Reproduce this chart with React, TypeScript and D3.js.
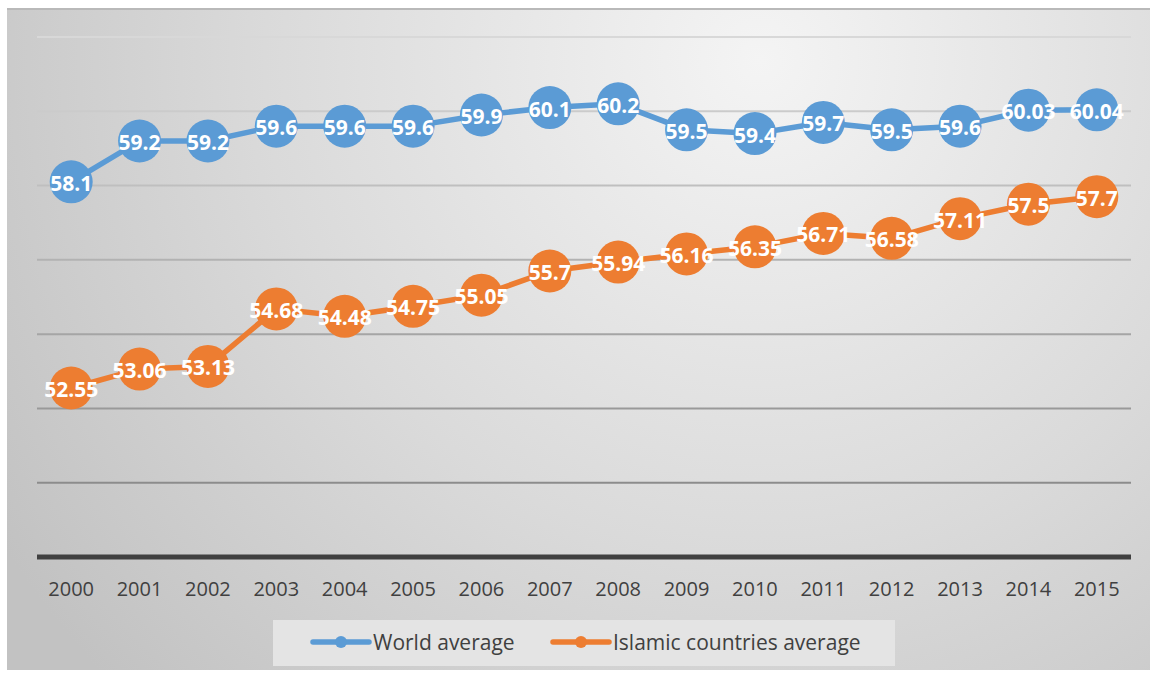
import React, { useEffect, useRef } from 'react';
import * as d3 from 'd3';

const years = ['2000', '2001', '2002', '2003', '2004', '2005', '2006', '2007', '2008', '2009', '2010', '2011', '2012', '2013', '2014', '2015'];
const worldAverage = [58.1, 59.2, 59.2, 59.6, 59.6, 59.6, 59.9, 60.1, 60.2, 59.5, 59.4, 59.7, 59.5, 59.6, 60.03, 60.04];
const islamicAverage = [52.55, 53.06, 53.13, 54.68, 54.48, 54.75, 55.05, 55.7, 55.94, 56.16, 56.35, 56.71, 56.58, 57.11, 57.5, 57.7];
const gridTicks = [50, 52, 54, 56, 58, 60, 62];
const seriesNames = ['World average', 'Islamic countries average'];
const seriesColors = ['#5b9bd5', '#ed7d31'];

const WIDTH = 1154;
const HEIGHT = 678;

export default function App() {
  const ref = useRef<SVGSVGElement>(null);

  useEffect(() => {
    document.body.style.margin = '0';
    const svg = d3.select(ref.current);
    svg.selectAll('*').remove();

    const font = '"Open Sans", "Liberation Sans", sans-serif';
    const x = d3.scaleBand<string>().domain(years).range([37, 1131]);
    const cx = (d: string) => (x(d) as number) + x.bandwidth() / 2;
    const y = d3.scaleLinear().domain([48, 62]).range([557, 37]);

    // background gradient
    const defs = svg.append('defs');
    const grad = defs.append('radialGradient')
      .attr('id', 'bg')
      .attr('gradientUnits', 'userSpaceOnUse')
      .attr('cx', 760).attr('cy', 60).attr('r', 900);
    grad.append('stop').attr('offset', '0%').attr('stop-color', '#f4f4f4');
    grad.append('stop').attr('offset', '55%').attr('stop-color', '#dadada');
    grad.append('stop').attr('offset', '100%').attr('stop-color', '#c2c2c2');

    svg.append('rect').attr('width', WIDTH).attr('height', HEIGHT).attr('fill', '#ffffff');
    svg.append('rect')
      .attr('x', 7).attr('y', 8).attr('width', 1143).attr('height', 662)
      .attr('fill', 'url(#bg)');
    svg.append('line')
      .attr('x1', 7).attr('x2', 1150).attr('y1', 9).attr('y2', 9)
      .attr('stroke', '#b9b9b9').attr('stroke-width', 2);

    // gridlines
    const gridColor = d3.interpolateRgb('#8c8c8c', '#d8d8d8');
    svg.append('g').selectAll('line')
      .data(gridTicks)
      .enter()
      .append('line')
      .attr('x1', 37).attr('x2', 1131)
      .attr('y1', (d) => y(d)).attr('y2', (d) => y(d))
      .attr('stroke', (d, i) => gridColor(i / (gridTicks.length - 1)))
      .attr('stroke-width', 2);

    // x axis
    svg.append('line')
      .attr('x1', 37).attr('x2', 1131)
      .attr('y1', y(48)).attr('y2', y(48))
      .attr('stroke', '#404040').attr('stroke-width', 5);

    svg.append('g').selectAll('text')
      .data(years)
      .enter()
      .append('text')
      .attr('x', (d) => cx(d))
      .attr('y', 588)
      .attr('text-anchor', 'middle')
      .attr('dominant-baseline', 'central')
      .attr('font-family', font)
      .attr('font-size', '20px')
      .attr('fill', '#404040')
      .text((d) => d);

    // series
    [worldAverage, islamicAverage].forEach((values, s) => {
      const line = d3.line<number>()
        .x((d, i) => cx(years[i]))
        .y((d) => y(d));
      const g = svg.append('g');
      g.append('path')
        .attr('d', line(values))
        .attr('fill', 'none')
        .attr('stroke', seriesColors[s])
        .attr('stroke-width', 5.5)
        .attr('stroke-linejoin', 'round');
      g.selectAll('circle')
        .data(values)
        .enter()
        .append('circle')
        .attr('cx', (d, i) => cx(years[i]))
        .attr('cy', (d) => y(d))
        .attr('r', 21.5)
        .attr('fill', seriesColors[s]);
      g.selectAll('text')
        .data(values)
        .enter()
        .append('text')
        .attr('x', (d, i) => cx(years[i]))
        .attr('y', (d) => y(d) + 1)
        .attr('text-anchor', 'middle')
        .attr('dominant-baseline', 'central')
        .attr('font-family', font)
        .attr('font-weight', 'bold')
        .attr('font-size', '21px')
        .attr('fill', '#ffffff')
        .text((d) => String(d));
    });

    // legend
    const legend = svg.append('g');
    legend.append('rect')
      .attr('x', 273).attr('y', 620).attr('width', 622).attr('height', 46)
      .attr('fill', '#e4e4e4');
    const legendX = [313, 553];
    seriesNames.forEach((name, s) => {
      const lx = legendX[s];
      legend.append('line')
        .attr('x1', lx).attr('x2', lx + 56)
        .attr('y1', 642).attr('y2', 642)
        .attr('stroke', seriesColors[s]).attr('stroke-width', 5.5)
        .attr('stroke-linecap', 'round');
      legend.append('circle')
        .attr('cx', lx + 28).attr('cy', 642).attr('r', 6)
        .attr('fill', seriesColors[s]);
      legend.append('text')
        .attr('x', lx + 60).attr('y', 642)
        .attr('dominant-baseline', 'central')
        .attr('font-family', font)
        .attr('font-size', '21px')
        .attr('fill', '#404040')
        .text(name);
    });
  }, []);

  return <svg ref={ref} width={WIDTH} height={HEIGHT} style={{ display: 'block' }} />;
}
